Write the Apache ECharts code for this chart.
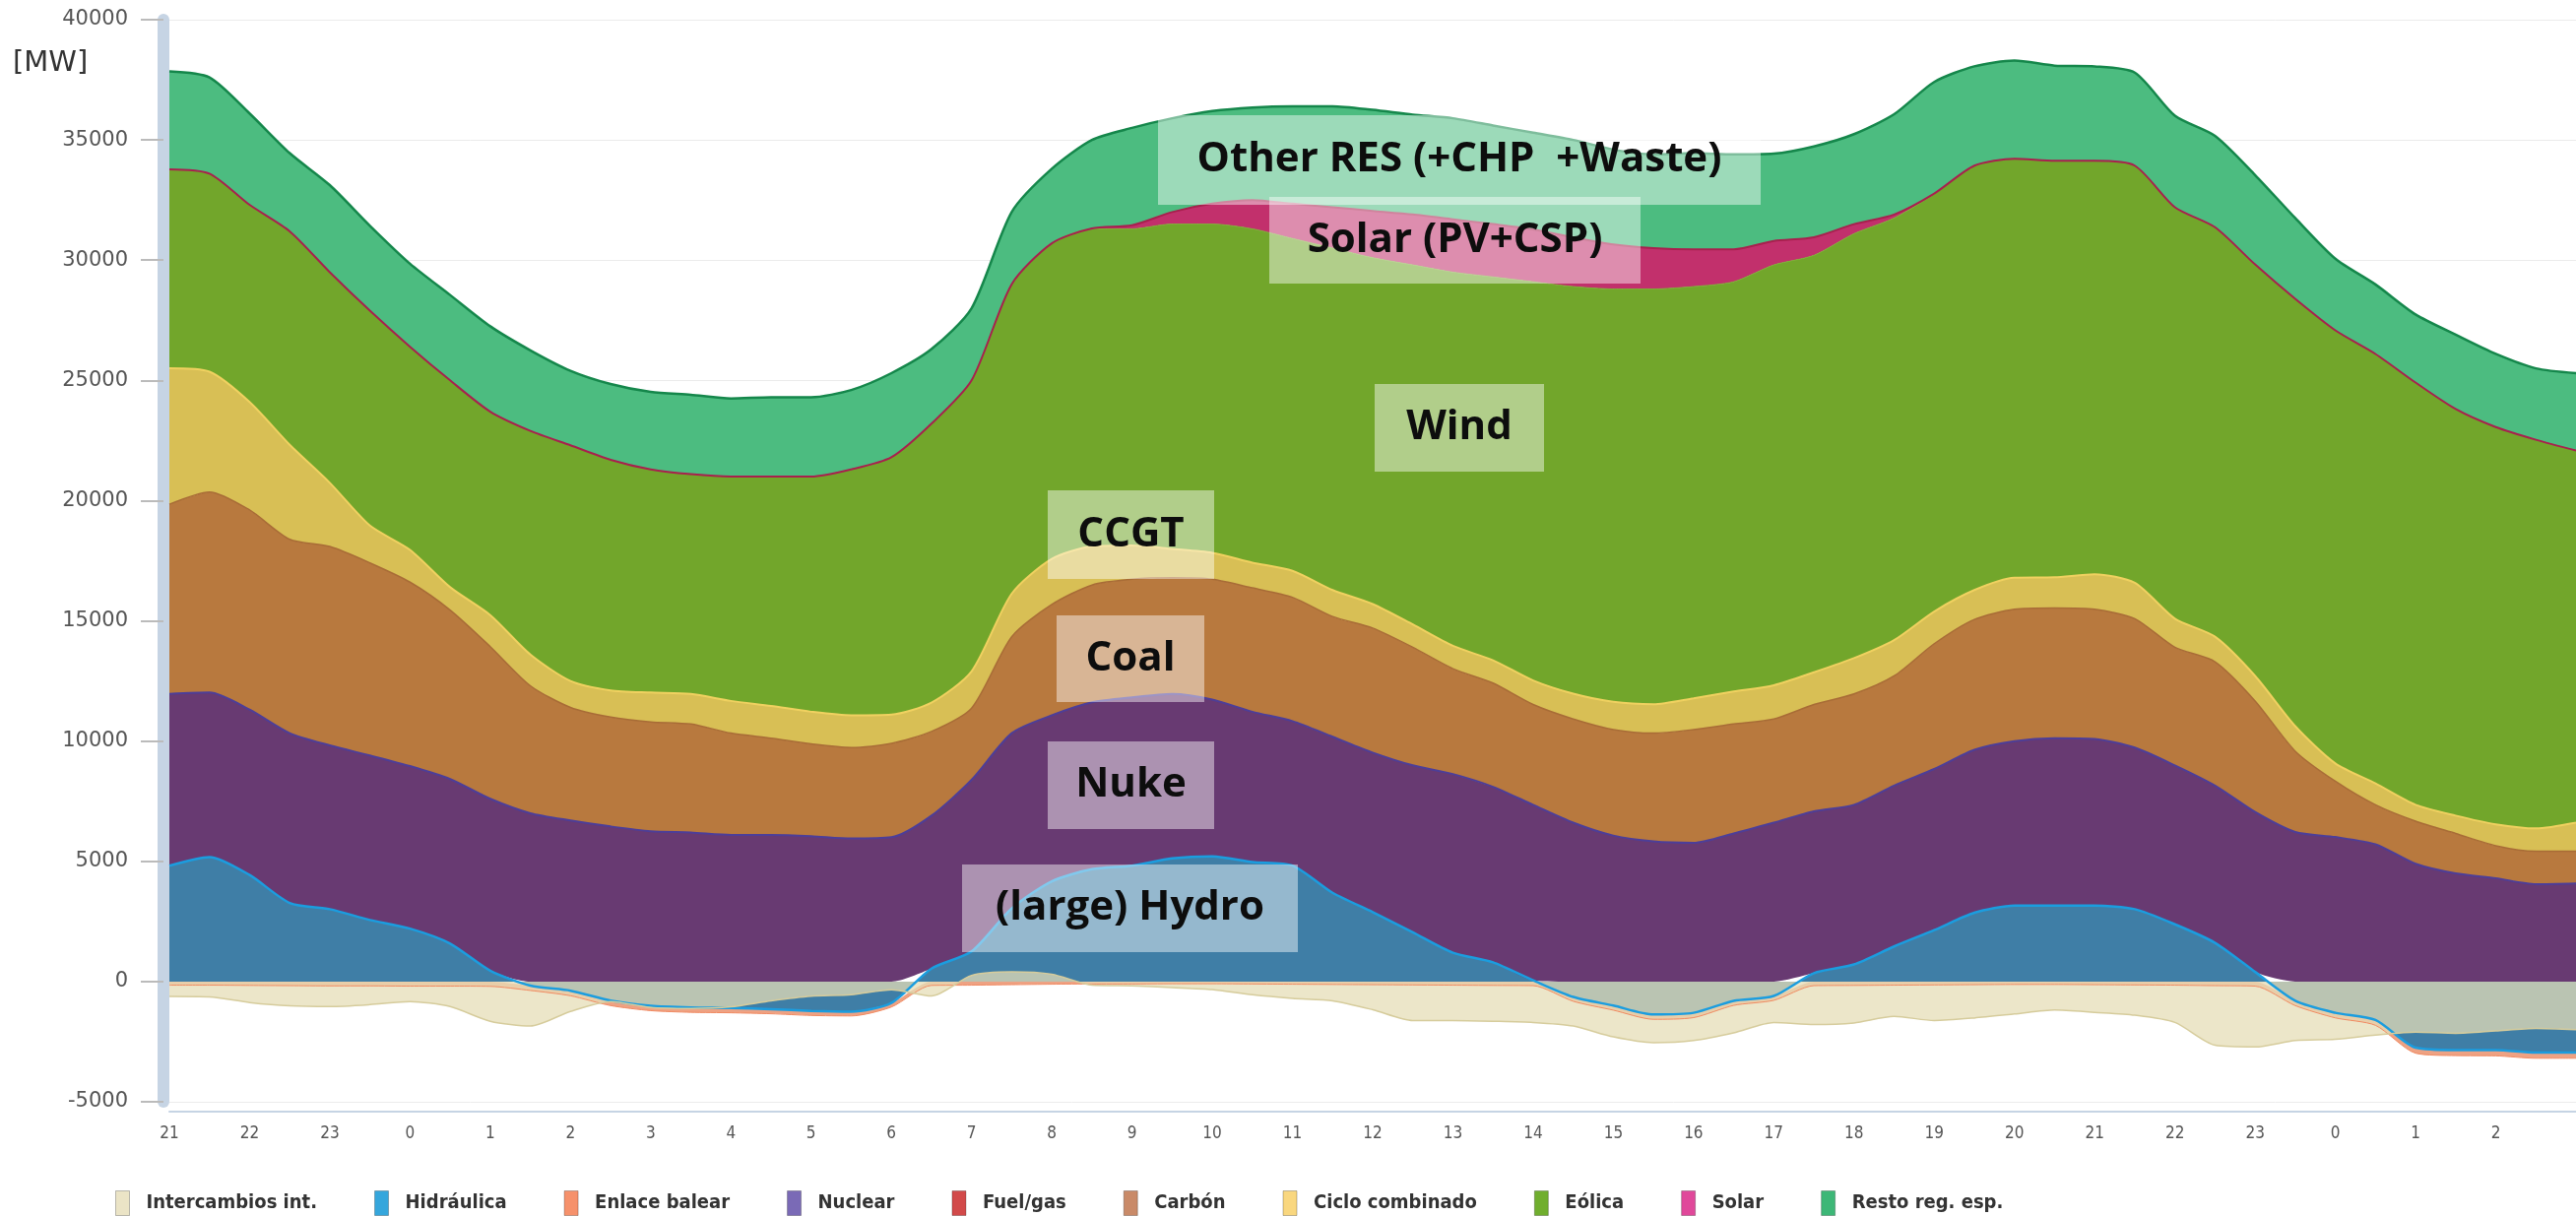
<!DOCTYPE html>
<html>
<head>
<meta charset="utf-8">
<title>Estructura de generación</title>
<script src="https://cdn.jsdelivr.net/npm/echarts@6/dist/echarts.min.js"></script>
<style>
  html, body { margin: 0; padding: 0; background: #fff; }
  #chart { width: 2616px; height: 1235px; }
</style>
</head>
<body>
<div id="chart"></div>
<script>
  // half-hour steps, 21:00 (day 1) .. 03:00 (day 3)
  var horas = [
    '21:00', '21:30', '22:00', '22:30', '23:00', '23:30',
    '00:00', '00:30', '01:00', '01:30', '02:00', '02:30', '03:00', '03:30', '04:00', '04:30',
    '05:00', '05:30', '06:00', '06:30', '07:00', '07:30', '08:00', '08:30', '09:00', '09:30',
    '10:00', '10:30', '11:00', '11:30', '12:00', '12:30', '13:00', '13:30', '14:00', '14:30',
    '15:00', '15:30', '16:00', '16:30', '17:00', '17:30', '18:00', '18:30', '19:00', '19:30',
    '20:00', '20:30', '21:00', '21:30', '22:00', '22:30', '23:00', '23:30',
    '00:00', '00:30', '01:00', '01:30', '02:00', '02:30', '03:00'
  ];

  // MW
  var intercambios = [-620, -640, -870, -1010, -1040, -960, -830, -1040, -1650, -1850,
    -1240, -830, -1080, -1120, -1050, -800, -610, -550, -340, -600,
    250, 400, 300, -150, -180, -250, -330, -550, -700, -800,
    -1170, -1620, -1620, -1650, -1700, -1850, -2300, -2540, -2450, -2130,
    -1700, -1790, -1720, -1450, -1620, -1515, -1350, -1180, -1280, -1400,
    -1700, -2650, -2720, -2450, -2400, -2230, -2100, -2150, -2050, -1950, -2000];
  var hidraulica = [4820, 5180, 4430, 3270, 3010, 2560, 2200, 1580, 450, -170,
    -380, -790, -1010, -1080, -1100, -1150, -1220, -1250, -890, 540,
    1250, 3040, 4170, 4670, 4820, 5120, 5210, 4970, 4820, 3690,
    2890, 2050, 1200, 800, 50, -640, -1000, -1370, -1300, -800,
    -600, 350, 710, 1460, 2140, 2860, 3160, 3160, 3160, 3010,
    2380, 1610, 400, -800, -1300, -1600, -2750, -2850, -2850, -2950, -2950];
  var enlaceBalear = [-150, -150, -160, -170, -180, -180, -190, -190, -200, -200,
    -210, -210, -200, -200, -200, -190, -190, -180, -170, -160,
    -150, -130, -110, -100, -100, -90, -90, -100, -110, -120,
    -130, -140, -150, -160, -170, -180, -190, -200, -200, -190,
    -180, -170, -160, -150, -140, -130, -120, -120, -130, -140,
    -150, -170, -190, -200, -210, -220, -230, -230, -240, -240, -240];
  var nuclear = [7140, 6840, 6880, 7060, 6810, 6840, 6760, 6840, 7150, 7000,
    6700, 6450, 6250, 6200, 6100, 6100, 6050, 5950, 6000, 6360,
    7140, 7290, 6900, 6940, 7000, 6840, 6520, 6250, 6010, 6490,
    6630, 6940, 7430, 7300, 7300, 6610, 6070, 5830, 5770, 6160,
    6610, 6730, 6640, 6690, 6700, 6780, 6840, 6960, 6930, 6720,
    6610, 6540, 6650, 6220, 6010, 5710, 4900, 4500, 4300, 4050, 4080];
  var fuelGas = [0, 0, 0, 0, 0, 0, 0, 0, 0, 0,
    0, 0, 0, 0, 0, 0, 0, 0, 0, 0,
    0, 0, 0, 0, 0, 0, 0, 0, 0, 0,
    0, 0, 0, 0, 0, 0, 0, 0, 0, 0,
    0, 0, 0, 0, 0, 0, 0, 0, 0, 0,
    0, 0, 0, 0, 0, 0, 0, 0, 0, 0, 0];
  var carbon = [7890, 8340, 8300, 8060, 8270, 8010, 7650, 7030, 6330, 5300,
    4700, 4550, 4550, 4510, 4230, 4020, 3830, 3780, 3900, 3500,
    2980, 4010, 4610, 4880, 4910, 4830, 5000, 5150, 5150, 5000,
    5180, 4910, 4380, 4310, 4170, 4310, 4410, 4500, 4710, 4550,
    4310, 4440, 4610, 4560, 5210, 5420, 5480, 5410, 5390, 5360,
    4910, 5150, 4620, 3360, 2320, 1640, 1770, 1660, 1350, 1370, 1340];
  var cicloCombinado = [5650, 5000, 4490, 3930, 2650, 1550, 1340, 950, 1310, 1300,
    1100, 1110, 1220, 1250, 1340, 1340, 1340, 1340, 1200, 1200,
    1530, 1790, 1900, 1600, 1400, 1200, 1100, 1050, 1100, 1100,
    1000, 950, 950, 950, 1000, 1050, 1150, 1200, 1300, 1350,
    1400, 1340, 1490, 1490, 1340, 1220, 1310, 1280, 1460, 1490,
    1190, 1040, 1040, 1040, 740, 890, 680, 740, 890, 950, 1190];
  var eolica = [8280, 8240, 8200, 8880, 8760, 8940, 8450, 8600, 8460, 9300,
    9800, 9590, 9280, 9140, 9330, 9540, 9780, 10230, 10700, 11600,
    12100, 12870, 13120, 13210, 13170, 13510, 13670, 13880, 13820, 14220,
    14400, 14950, 15540, 15940, 16580, 16930, 17170, 17270, 17120, 17040,
    17480, 17340, 17650, 17550, 17350, 17650, 17430, 17320, 17190, 17350,
    17110, 17030, 17110, 17770, 18010, 17860, 17560, 16910, 16520, 16160, 15470];
  var solar = [0, 0, 0, 0, 0, 0, 0, 0, 0, 0,
    0, 0, 0, 0, 0, 0, 0, 0, 0, 0,
    0, 0, 0, 20, 150, 500, 850, 1200, 1450, 1700,
    1950, 2100, 2200, 2200, 2180, 2050, 1850, 1700, 1550, 1350,
    1000, 750, 400, 150, 30, 0, 0, 0, 0, 0,
    0, 0, 0, 0, 0, 0, 0, 0, 0, 0, 0];
  var restoRegEsp = [4070, 4000, 3800, 3250, 3620, 3530, 3450, 3550, 3550, 3350,
    3100, 3150, 3220, 3300, 3250, 3300, 3300, 3300, 3500, 3100,
    3000, 3000, 3100, 3680, 4050, 3900, 3850, 3850, 4050, 4200,
    4200, 4150, 4200, 4100, 4020, 4050, 3950, 3900, 4000, 3950,
    3630, 3780, 3740, 4170, 4640, 4130, 4080, 3960, 3930, 3870,
    3810, 3800, 3720, 3360, 2980, 2890, 2830, 3090, 3040, 2970, 3220];

  var leyenda = ['Intercambios int.', 'Hidráulica', 'Enlace balear', 'Nuclear', 'Fuel/gas',
    'Carbón', 'Ciclo combinado', 'Eólica', 'Solar', 'Resto reg. esp.'];

  // annotation boxes laid over the chart
  var etiquetas = [
    {text: 'Other RES (+CHP  +Waste)', x: 1176, y: 117, w: 612, h: 91},
    {text: 'Solar (PV+CSP)', x: 1289, y: 200, w: 377, h: 88},
    {text: 'Wind', x: 1396, y: 390, w: 172, h: 89},
    {text: 'CCGT', x: 1064, y: 498, w: 169, h: 90},
    {text: 'Coal', x: 1073, y: 625, w: 150, h: 88},
    {text: 'Nuke', x: 1064, y: 753, w: 169, h: 89},
    {text: '(large) Hydro', x: 977, y: 878, w: 341, h: 89}
  ];

  function area(name, data, legendColor, fill, line, lineWidth) {
    return {
      name: name,
      type: 'line',
      stack: 'gen',
      data: data,
      symbol: 'none',
      smooth: 0.25,
      itemStyle: {color: legendColor},
      lineStyle: {color: line, width: lineWidth},
      areaStyle: {color: fill, opacity: 1}
    };
  }

  var series = [
    area('Hidráulica', hidraulica, '#35a6dc', '#3f7ea6', '#1b9ddf', 2.5),
    area('Enlace balear', enlaceBalear, '#f6916b', '#eea283', '#f08a62', 1),
    area('Nuclear', nuclear, '#7a6ab6', '#683a72', '#4d3e98', 2),
    area('Fuel/gas', fuelGas, '#d24a4a', '#d24a4a', '#d24a4a', 0),
    area('Carbón', carbon, '#c98a68', '#b8793e', '#a86c36', 1.5),
    area('Ciclo combinado', cicloCombinado, '#f9d77f', '#d8bf55', '#f0d160', 2),
    area('Eólica', eolica, '#70ae2e', '#72a62b', '#7cb035', 1),
    area('Solar', solar, '#e0489a', '#c2306c', '#a8204e', 2),
    area('Resto reg. esp.', restoRegEsp, '#3db777', '#4cbc80', '#15874b', 2.5),
    {
      name: 'Intercambios int.',
      type: 'line',
      data: intercambios,
      symbol: 'none',
      smooth: 0.25,
      z: 3,
      itemStyle: {color: '#ebe4c6'},
      lineStyle: {color: '#d6cc9c', width: 1.5},
      areaStyle: {color: '#e6ddb6', opacity: 0.74}
    }
  ];

  var graphic = [{
    type: 'text', left: 13, top: 50, z: 100,
    style: {text: '[MW]', font: '29px "DejaVu Sans"', fill: '#333'}
  }];
  etiquetas.forEach(function (e) {
    graphic.push({
      type: 'rect', z: 100,
      shape: {x: e.x, y: e.y, width: e.w, height: e.h},
      style: {fill: 'rgba(255,255,255,0.45)'}
    });
    graphic.push({
      type: 'text', z: 101, x: e.x + e.w / 2, y: e.y + e.h / 2,
      style: {
        text: e.text, font: 'bold 42px "Open Sans"', fill: '#0d0d0d',
        align: 'center', verticalAlign: 'middle'
      }
    });
  });

  var option = {
    animation: false,
    backgroundColor: '#fff',
    grid: {left: 172, right: 0, top: 20, bottom: 116},
    legend: {
      data: leyenda,
      left: 112,
      top: 1204,
      icon: 'rect',
      itemWidth: 14,
      itemHeight: 25,
      itemGap: 58,
      selectedMode: false,
      itemStyle: {borderWidth: 1, borderColor: 'rgba(0,0,0,0.25)'},
      textStyle: {
        fontSize: 20, fontWeight: 'bold', color: '#333',
        fontFamily: '"DejaVu Sans Condensed", "Liberation Sans Narrow", sans-serif',
        padding: [0, 0, 0, 12]
      }
    },
    xAxis: {
      type: 'category',
      data: horas,
      boundaryGap: false,
      offset: 10,
      axisLine: {onZero: false, lineStyle: {color: '#c6d4e4', width: 2}},
      axisTick: {show: false},
      splitLine: {show: false},
      axisLabel: {
        interval: 1,
        margin: 14,
        fontSize: 17,
        color: '#555',
        showMaxLabel: false,
        fontFamily: '"Liberation Sans Narrow", "DejaVu Sans Condensed", sans-serif',
        formatter: function (v) {
          return String(parseInt(v.split(':')[0], 10));
        }
      }
    },
    yAxis: [
      {
        type: 'value',
        min: -5000,
        max: 40000,
        interval: 5000,
        offset: 6,
        axisLine: {show: false},
        axisTick: {show: true, length: 23, lineStyle: {color: '#bbbbbb', width: 2}},
        axisLabel: {
          margin: 36, fontSize: 21, color: '#555', fontFamily: '"DejaVu Sans", sans-serif',
          formatter: function (v) { return String(v); }
        },
        splitLine: {lineStyle: {color: '#ebebeb', width: 1}}
      },
      {
        type: 'value',
        min: -5000,
        max: 40000,
        interval: 5000,
        offset: 6,
        position: 'left',
        axisLine: {show: true, lineStyle: {color: '#c6d4e4', width: 12}},
        axisTick: {show: false},
        axisLabel: {show: false},
        splitLine: {show: false}
      }
    ],
    graphic: graphic,
    series: series
  };

  var chart = echarts.init(document.getElementById('chart'));
  chart.setOption(option);
</script>
</body>
</html>
